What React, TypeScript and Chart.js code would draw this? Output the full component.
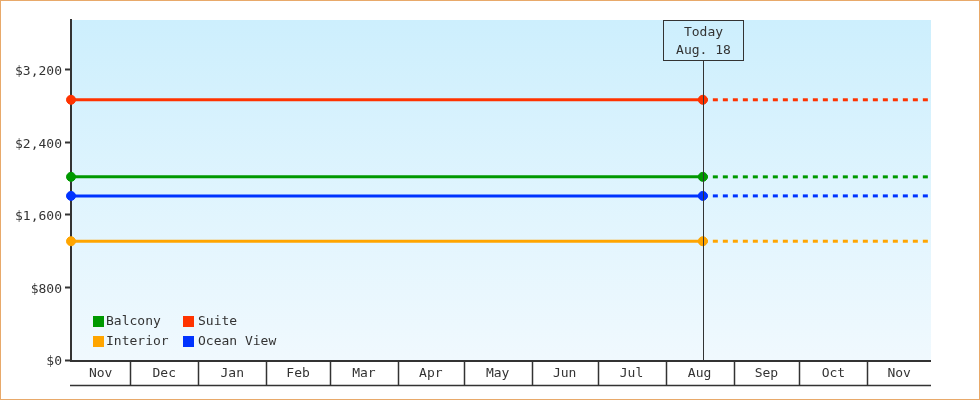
import React, { useEffect, useRef } from 'react';
import { Chart, registerables } from 'chart.js';

Chart.register(...registerables);

// cabin price per category (flat over the year)
const roomTypes = ['Balcony', 'Interior', 'Suite', 'Ocean View'];
const roomPrices = [2020, 1310, 2870, 1810];
const roomColors = ['#009900', '#ffa500', '#ff3300', '#0033ff'];
const legendOrder = ['Balcony', 'Suite', 'Interior', 'Ocean View'];

// x axis is days counted from Dec 1
const monthLabels = ['Nov', 'Dec', 'Jan', 'Feb', 'Mar', 'Apr', 'May', 'Jun', 'Jul', 'Aug', 'Sep', 'Oct', 'Nov'];
const monthStarts = [-30, 0, 31, 62, 91, 122, 152, 183, 213, 244, 275, 305, 336, 366];
const X_MIN = -27;
const X_MAX = 365;
const TODAY = 261;
const todayLabel = ['Today', 'Aug. 18'];

const yTickValues = [0, 800, 1600, 2400, 3200];
const Y_MAX = 3750;

const FONT = '"DejaVu Sans Mono", "Liberation Mono", monospace';
const INK = '#333333';

const decorPlugin = {
    id: 'decor',
    beforeDraw(chart: any) {
        const { ctx, chartArea: a } = chart;
        const g = ctx.createLinearGradient(0, a.top, 0, a.bottom);
        g.addColorStop(0, '#cdeffd');
        g.addColorStop(1, '#f0f9fe');
        ctx.save();
        ctx.fillStyle = g;
        ctx.fillRect(a.left, a.top, a.right - a.left, a.bottom - a.top);
        ctx.restore();
    },
    afterDatasetsDraw(chart: any) {
        const { ctx, chartArea: a } = chart;
        const xs = chart.scales.x;
        ctx.save();
        ctx.font = `13px ${FONT}`;
        ctx.fillStyle = INK;
        ctx.strokeStyle = INK;

        // today marker
        const tx = Math.round(xs.getPixelForValue(TODAY)) + 0.5;
        const boxTop = a.top + 0.5;
        const boxH = 40;
        ctx.lineWidth = 1;
        ctx.beginPath();
        ctx.moveTo(tx, boxTop + boxH);
        ctx.lineTo(tx, a.bottom);
        ctx.stroke();
        ctx.strokeRect(tx - 40, boxTop, 80, boxH);
        ctx.textAlign = 'center';
        ctx.textBaseline = 'middle';
        ctx.fillText(todayLabel[0], tx, a.top + 13);
        ctx.fillText(todayLabel[1], tx, a.top + 31);

        // legend inside the plot
        ctx.textAlign = 'left';
        legendOrder.forEach((name, i) => {
            const col = i % 2;
            const row = Math.floor(i / 2);
            const x = a.left + 22 + col * 90;
            const y = a.bottom - 44 + row * 20;
            ctx.fillStyle = roomColors[roomTypes.indexOf(name)];
            ctx.fillRect(x, y, 11, 11);
            ctx.fillStyle = INK;
            ctx.fillText(name, x + 13 + col * 2, y + 6);
        });

        // month cells under the axis
        const bandBottom = a.bottom + 25.5;
        ctx.lineWidth = 2;
        ctx.beginPath();
        ctx.moveTo(a.left - 1, a.bottom + 1);
        ctx.lineTo(a.right, a.bottom + 1);
        ctx.stroke();
        ctx.lineWidth = 1.5;
        ctx.beginPath();
        ctx.moveTo(a.left - 1, bandBottom);
        ctx.lineTo(a.right, bandBottom);
        ctx.stroke();
        ctx.textAlign = 'center';
        monthLabels.forEach((m, i) => {
            const s = Math.max(monthStarts[i], X_MIN);
            const e = Math.min(monthStarts[i + 1], X_MAX);
            const x0 = xs.getPixelForValue(s);
            const x1 = xs.getPixelForValue(e);
            if (i > 0) {
                const lx = Math.round(x0) + 0.5;
                ctx.lineWidth = 1.5;
                ctx.beginPath();
                ctx.moveTo(lx, a.bottom + 1);
                ctx.lineTo(lx, bandBottom);
                ctx.stroke();
            }
            ctx.fillText(m, (x0 + x1) / 2, a.bottom + 14);
        });
        ctx.restore();
    },
};

export default function App() {
    const canvasRef = useRef<HTMLCanvasElement>(null);

    useEffect(() => {
        document.body.style.margin = '0';
        if (!canvasRef.current) return;

        const datasets: any[] = [];
        roomTypes.forEach((name, i) => {
            datasets.push({
                label: name,
                data: [
                    { x: X_MIN, y: roomPrices[i] },
                    { x: TODAY, y: roomPrices[i] },
                ],
                borderColor: roomColors[i],
                backgroundColor: roomColors[i],
                borderWidth: 3,
                pointRadius: 4.5,
                pointHoverRadius: 4.5,
                pointBorderWidth: 1,
                clip: false,
            });
            datasets.push({
                label: name + ' forecast',
                data: [
                    { x: TODAY, y: roomPrices[i] },
                    { x: X_MAX, y: roomPrices[i] },
                ],
                borderColor: roomColors[i],
                borderWidth: 3,
                borderDash: [5, 5],
                borderCapStyle: 'butt',
                pointRadius: 0,
                clip: false,
            });
        });

        const chart = new Chart(canvasRef.current, {
            type: 'line',
            data: { datasets },
            options: {
                animation: false,
                responsive: false,
                layout: { padding: { left: 0, top: 19, right: 48, bottom: 39 } },
                plugins: {
                    legend: { display: false },
                    tooltip: { enabled: false },
                },
                scales: {
                    x: {
                        type: 'linear',
                        display: false,
                        min: X_MIN,
                        max: X_MAX,
                    },
                    y: {
                        min: 0,
                        max: Y_MAX,
                        afterFit: (scale: any) => {
                            scale.width = 70;
                        },
                        afterBuildTicks: (scale: any) => {
                            scale.ticks = yTickValues.map((v) => ({ value: v }));
                        },
                        border: { display: true, color: INK, width: 2 },
                        grid: {
                            drawOnChartArea: false,
                            drawTicks: true,
                            tickLength: 6,
                            tickWidth: 2,
                            tickColor: INK,
                        },
                        ticks: {
                            padding: 3,
                            labelOffset: 2,
                            color: INK,
                            font: { family: FONT, size: 13 },
                            callback: (v: any) => '$' + Number(v).toLocaleString('en-US'),
                        },
                    },
                },
            },
            plugins: [decorPlugin],
        });

        return () => {
            chart.destroy();
        };
    }, []);

    return (
        <div
            style={{
                width: 980,
                height: 400,
                boxSizing: 'border-box',
                border: '1px solid #e8a96a',
                background: '#fff',
            }}
        >
            <canvas ref={canvasRef} width={978} height={398} style={{ display: 'block' }} />
        </div>
    );
}
